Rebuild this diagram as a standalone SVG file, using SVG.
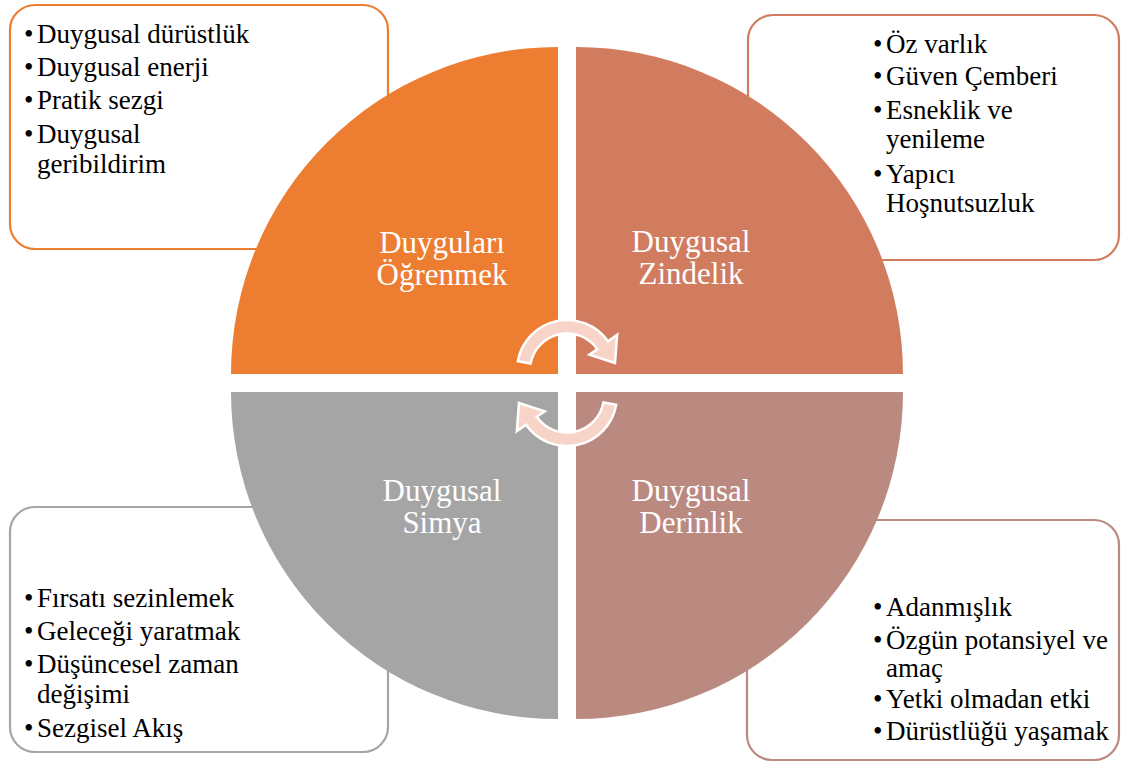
<svg xmlns="http://www.w3.org/2000/svg" width="1121" height="764" viewBox="0 0 1121 764">
<style>
.box{fill:#fff;stroke-width:2.2}
.lbl{font-family:'Liberation Serif','Times New Roman',Tinos,'DejaVu Serif','Noto Serif',serif;font-size:31px;fill:#fff;text-anchor:middle}
.txt{font-family:'Liberation Serif','Times New Roman',Tinos,'DejaVu Serif','Noto Serif',serif;font-size:27px;fill:#000}
.arr{fill:#F7D4C7;stroke:#fff;stroke-width:2.5;stroke-linejoin:miter}
</style>
<rect width="1121" height="764" fill="#fff"/>
<g id="box-tl">
<rect class="box" x="10" y="5" width="378" height="244" rx="25" stroke="#ED7D31"/>
<text class="txt"><tspan x="24" y="43">•</tspan><tspan x="37" y="43">Duygusal dürüstlük</tspan><tspan x="24" y="76">•</tspan><tspan x="37" y="76">Duygusal enerji</tspan><tspan x="24" y="109">•</tspan><tspan x="37" y="109">Pratik sezgi</tspan><tspan x="24" y="143">•</tspan><tspan x="37" y="143">Duygusal</tspan><tspan x="37" y="173">geribildirim</tspan></text>
</g>
<g id="box-tr">
<rect class="box" x="748" y="15" width="371" height="245" rx="25" stroke="#D17C5F"/>
<text class="txt"><tspan x="873" y="53">•</tspan><tspan x="886" y="53">Öz varlık</tspan><tspan x="873" y="85">•</tspan><tspan x="886" y="85">Güven Çemberi</tspan><tspan x="873" y="119">•</tspan><tspan x="886" y="119">Esneklik ve</tspan><tspan x="886" y="148">yenileme</tspan><tspan x="873" y="183">•</tspan><tspan x="886" y="183">Yapıcı</tspan><tspan x="886" y="212">Hoşnutsuzluk</tspan></text>
</g>
<g id="box-bl">
<rect class="box" x="10" y="507" width="378" height="245" rx="25" stroke="#A5A5A5"/>
<text class="txt"><tspan x="24" y="607">•</tspan><tspan x="37" y="607">Fırsatı sezinlemek</tspan><tspan x="24" y="640">•</tspan><tspan x="37" y="640">Geleceği yaratmak</tspan><tspan x="24" y="673">•</tspan><tspan x="37" y="673">Düşüncesel zaman</tspan><tspan x="37" y="703">değişimi</tspan><tspan x="24" y="737">•</tspan><tspan x="37" y="737">Sezgisel Akış</tspan></text>
</g>
<g id="box-br">
<rect class="box" x="747" y="520" width="372" height="240" rx="25" stroke="#BA8A81"/>
<text class="txt"><tspan x="873" y="616">•</tspan><tspan x="886" y="616">Adanmışlık</tspan><tspan x="873" y="649">•</tspan><tspan x="886" y="649">Özgün potansiyel ve</tspan><tspan x="886" y="677">amaç</tspan><tspan x="873" y="708">•</tspan><tspan x="886" y="708">Yetki olmadan etki</tspan><tspan x="873" y="740">•</tspan><tspan x="886" y="740">Dürüstlüğü yaşamak</tspan></text>
</g>
<g id="q-tl">
<path d="M558,374 L231,374 A327,327 0 0 1 558,47 Z" fill="#ED7D31"/>
<text class="lbl"><tspan x="442" y="253">Duyguları</tspan><tspan x="442" y="285">Öğrenmek</tspan></text>
</g>
<g id="q-tr">
<path d="M576,374 L576,47 A327,327 0 0 1 903,374 Z" fill="#D17C5F"/>
<text class="lbl"><tspan x="691" y="252">Duygusal</tspan><tspan x="691" y="284">Zindelik</tspan></text>
</g>
<g id="q-br">
<path d="M576,392 L903,392 A327,327 0 0 1 576,719 Z" fill="#BA8A81"/>
<text class="lbl"><tspan x="691" y="501">Duygusal</tspan><tspan x="691" y="533">Derinlik</tspan></text>
</g>
<g id="q-bl">
<path d="M558,392 L558,719 A327,327 0 0 1 231,392 Z" fill="#A5A5A5"/>
<text class="lbl"><tspan x="442" y="501">Duygusal</tspan><tspan x="442" y="533">Simya</tspan></text>
</g>
<g id="connectors">
<path id="arrow-top" class="arr" d="M517.8,361.3 A50,50 0 0 1 608.0,341.3 L617.2,334.9 L615.0,363.0 L589.3,354.7 L597.3,349.2 A37,37 0 0 0 530.6,363.6 Z"/>
<path id="arrow-bottom" class="arr" transform="rotate(180 567 383)" d="M517.8,361.3 A50,50 0 0 1 608.0,341.3 L617.2,334.9 L615.0,363.0 L589.3,354.7 L597.3,349.2 A37,37 0 0 0 530.6,363.6 Z"/>
</g>
</svg>
